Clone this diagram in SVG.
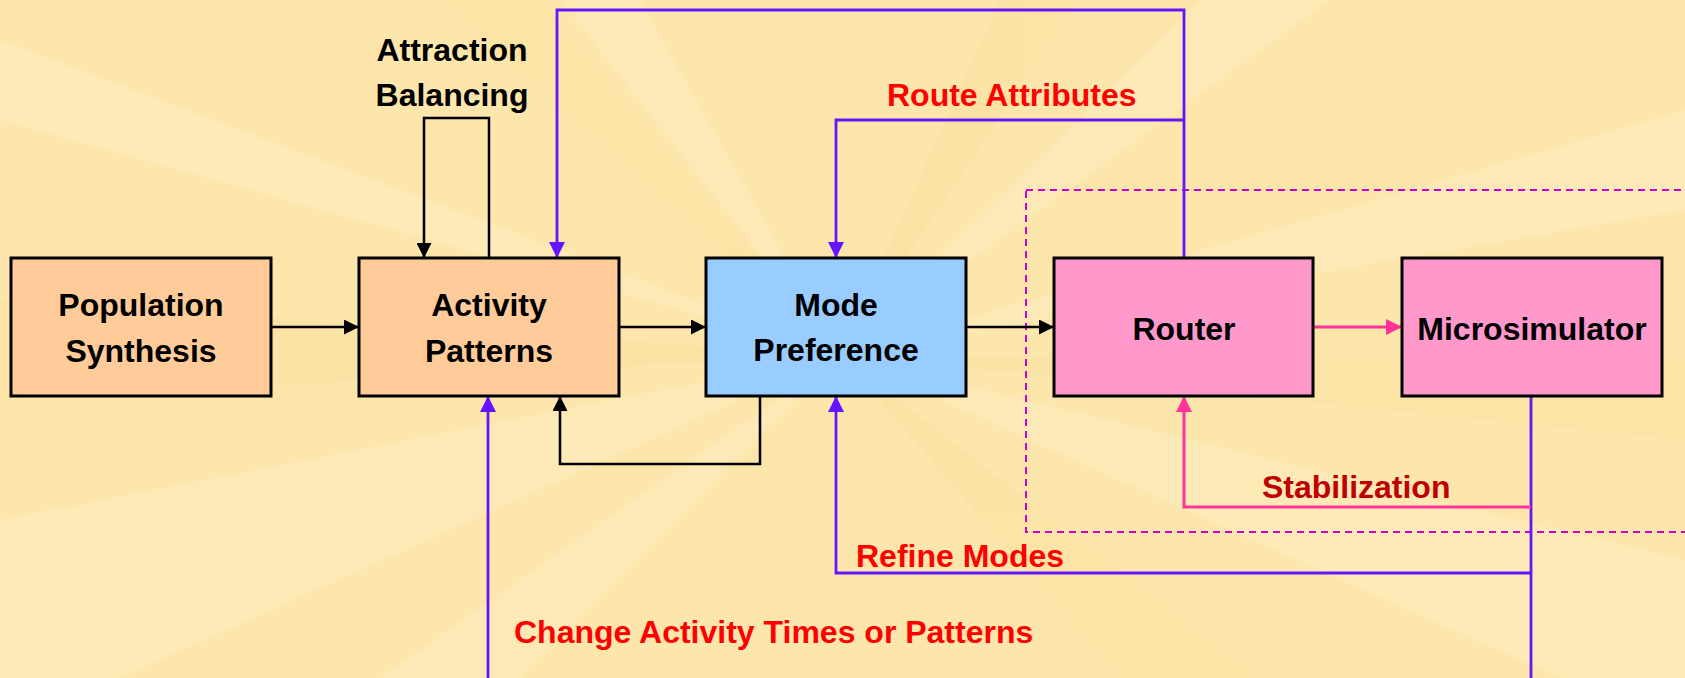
<svg xmlns="http://www.w3.org/2000/svg" width="1685" height="678" viewBox="0 0 1685 678">
<defs>
<style>
.box{stroke:#000;stroke-width:3}
.t{font-family:"Liberation Sans",Arial,sans-serif;font-weight:bold;font-size:32px;fill:#000}
.red{fill:#FF0000}
.dred{fill:#C00000}
.blk{fill:none;stroke:#000;stroke-width:2.5}
.pur{fill:none;stroke:#6414FF;stroke-width:2.8}
.pnk{fill:none;stroke:#FF3399;stroke-width:3}
</style>
<marker id="ab" viewBox="0 0 14 14" refX="14" refY="7" markerWidth="15" markerHeight="15" markerUnits="userSpaceOnUse" orient="auto"><path d="M0,0 L14,7 L0,14 Z" fill="#000"/></marker>
<marker id="ap" viewBox="0 0 14 14" refX="14" refY="7" markerWidth="16" markerHeight="16" markerUnits="userSpaceOnUse" orient="auto"><path d="M0,0 L14,7 L0,14 Z" fill="#6414FF"/></marker>
<marker id="ak" viewBox="0 0 14 14" refX="14" refY="7" markerWidth="16" markerHeight="16" markerUnits="userSpaceOnUse" orient="auto"><path d="M0,0 L14,7 L0,14 Z" fill="#FF3399"/></marker>
</defs>
<g id="background">
<rect x="0" y="0" width="1685" height="678" fill="#FCE6AC"/>
<g fill="#FEF0CA" opacity="0.35">
<polygon points="840,355 0,120 0,40"/>
<polygon points="840,355 0,520 0,678 120,678"/>
<polygon points="840,355 560,0 640,0"/>
<polygon points="840,355 1200,0 1330,0"/>
<polygon points="840,355 1685,110 1685,210"/>
<polygon points="840,355 1685,560 1685,678 1560,678"/>
<polygon points="840,355 380,678 520,678"/>
</g>
<g fill="#F9DA92" opacity="0.2">
<polygon points="840,355 440,0 540,0"/>
<polygon points="840,355 0,300 0,400"/>
<polygon points="840,355 1000,0 1080,0"/>
<polygon points="840,355 1685,360 1685,440"/>
<polygon points="840,355 1120,678 1260,678"/>
</g>
</g>
<g id="dashed-frame">
<rect x="1026" y="190" width="700" height="342" fill="none" stroke="#CC00CC" stroke-width="2" stroke-dasharray="7,5"/>
</g>
<g id="connectors">
<path class="blk" d="M271,327 H359" marker-end="url(#ab)"/>
<path class="blk" d="M619,327 H706" marker-end="url(#ab)"/>
<path class="blk" d="M966,327 H1054" marker-end="url(#ab)"/>
<path class="pnk" d="M1313,327 H1402" marker-end="url(#ak)"/>
<path class="blk" d="M489,258 V118 H424 V258" marker-end="url(#ab)"/>
<path class="blk" d="M760,396 V464 H560 V396" marker-end="url(#ab)"/>
<path class="pur" d="M1184,258 V10 H557 V258" marker-end="url(#ap)"/>
<path class="pur" d="M1184,120 H836 V258" marker-end="url(#ap)"/>
<path class="pur" d="M1531,396 V700 H488 V396" marker-end="url(#ap)"/>
<path class="pur" d="M1531,573 H836 V396" marker-end="url(#ap)"/>
<path class="pnk" d="M1531,507 H1184 V396" marker-end="url(#ak)"/>
</g>
<g id="population-synthesis">
<rect class="box" x="11" y="258" width="260" height="138" fill="#FFCC99"/>
<text class="t" x="141" y="316" text-anchor="middle">Population</text>
<text class="t" x="141" y="362" text-anchor="middle">Synthesis</text>
</g>
<g id="activity-patterns">
<rect class="box" x="359" y="258" width="260" height="138" fill="#FFCC99"/>
<text class="t" x="489" y="316" text-anchor="middle">Activity</text>
<text class="t" x="489" y="362" text-anchor="middle">Patterns</text>
</g>
<g id="mode-preference">
<rect class="box" x="706" y="258" width="260" height="138" fill="#99CCFF"/>
<text class="t" x="836" y="316" text-anchor="middle">Mode</text>
<text class="t" x="836" y="361" text-anchor="middle">Preference</text>
</g>
<g id="router">
<rect class="box" x="1054" y="258" width="259" height="138" fill="#FF99CC"/>
<text class="t" x="1184" y="340" text-anchor="middle">Router</text>
</g>
<g id="microsimulator">
<rect class="box" x="1402" y="258" width="260" height="138" fill="#FF99CC"/>
<text class="t" x="1532" y="340" text-anchor="middle">Microsimulator</text>
</g>
<g id="labels">
<text class="t" x="452" y="61" text-anchor="middle">Attraction</text>
<text class="t" x="452" y="106" text-anchor="middle">Balancing</text>
<text class="t red" x="887" y="106">Route Attributes</text>
<text class="t dred" x="1262" y="498">Stabilization</text>
<text class="t red" x="856" y="567">Refine Modes</text>
<text class="t red" x="514" y="643">Change Activity Times or Patterns</text>
</g>
</svg>
